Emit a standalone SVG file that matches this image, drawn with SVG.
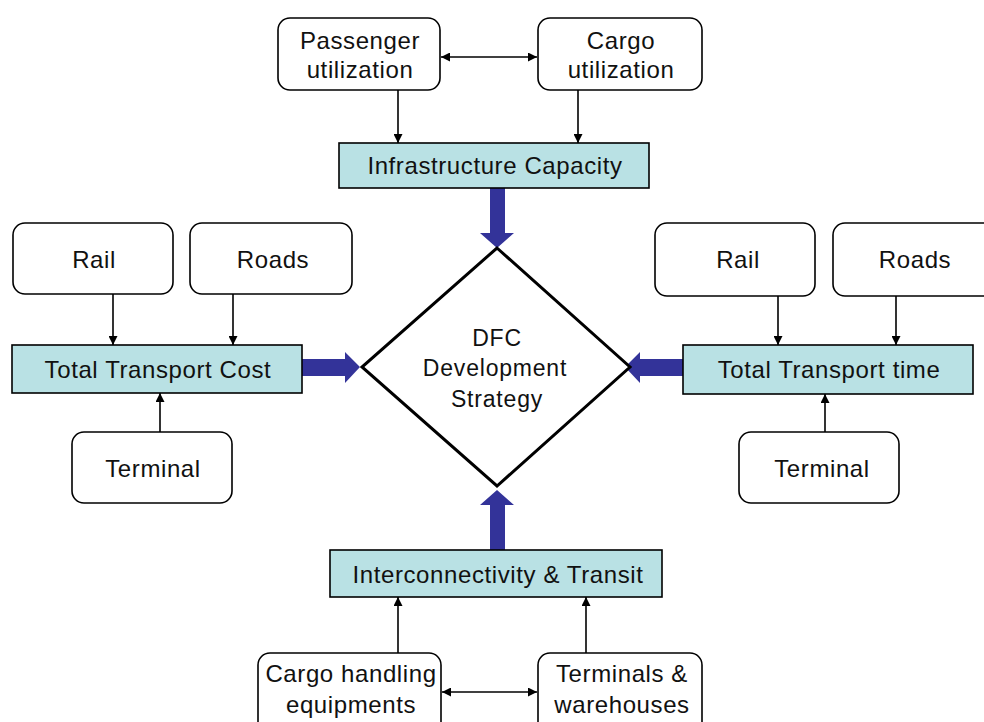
<svg xmlns="http://www.w3.org/2000/svg" width="984" height="722" viewBox="0 0 984 722">
  <style>
    .box { fill: #ffffff; stroke: #000000; stroke-width: 1.6; }
    .hub { fill: #b9e1e4; stroke: #000000; stroke-width: 1.6; }
    .lbl { font-family: "Liberation Sans", Arial, sans-serif; font-size: 24px; letter-spacing: 0.6px; fill: #111111; text-anchor: middle; }
    .mid { font-size: 23px; letter-spacing: 0.8px; }
    .thin { stroke: #000000; stroke-width: 1.6; fill: none; }
    .thick { fill: #333399; }
  </style>
  <defs>
    <marker id="ah" viewBox="0 0 10 10" refX="10" refY="5" markerWidth="9" markerHeight="9" markerUnits="userSpaceOnUse" orient="auto-start-reverse">
      <path d="M0,0 L10,5 L0,10 Z" fill="#000000"/>
    </marker>
  </defs>
  <rect width="984" height="722" fill="#ffffff"/>

  <!-- connectors -->
  <g id="connectors">
    <line class="thin" x1="441" y1="57" x2="537" y2="57" marker-start="url(#ah)" marker-end="url(#ah)"/>
    <line class="thin" x1="398" y1="90" x2="398" y2="143" marker-end="url(#ah)"/>
    <line class="thin" x1="578" y1="90" x2="578" y2="143" marker-end="url(#ah)"/>

    <line class="thin" x1="113" y1="294" x2="113" y2="345" marker-end="url(#ah)"/>
    <line class="thin" x1="233" y1="294" x2="233" y2="345" marker-end="url(#ah)"/>
    <line class="thin" x1="160" y1="432" x2="160" y2="393" marker-end="url(#ah)"/>

    <line class="thin" x1="778" y1="296" x2="778" y2="345" marker-end="url(#ah)"/>
    <line class="thin" x1="896" y1="296" x2="896" y2="345" marker-end="url(#ah)"/>
    <line class="thin" x1="825" y1="432" x2="825" y2="394" marker-end="url(#ah)"/>

    <line class="thin" x1="398" y1="653" x2="398" y2="597" marker-end="url(#ah)"/>
    <line class="thin" x1="586" y1="653" x2="586" y2="597" marker-end="url(#ah)"/>
    <line class="thin" x1="442" y1="692" x2="537" y2="692" marker-start="url(#ah)" marker-end="url(#ah)"/>

    <!-- block arrows into the strategy diamond -->
    <path class="thick" d="M490,188 L505,188 L505,233 L514,233 L497,248 L480,233 L490,233 Z"/>
    <path class="thick" d="M302,359 L345,359 L345,352 L360,367 L345,383 L345,376 L302,376 Z"/>
    <path class="thick" d="M683,359 L640,359 L640,352 L625,367 L640,383 L640,376 L683,376 Z"/>
    <path class="thick" d="M490,550 L505,550 L505,505 L514,505 L497,490 L480,505 L490,505 Z"/>
  </g>

  <g id="passenger">
    <rect class="box" x="278" y="18" width="162" height="72" rx="12"/>
    <text class="lbl" x="360" y="49">Passenger</text>
    <text class="lbl" x="360" y="78">utilization</text>
  </g>
  <g id="cargo">
    <rect class="box" x="538" y="18" width="164" height="72" rx="12"/>
    <text class="lbl" x="621" y="49">Cargo</text>
    <text class="lbl" x="621" y="78">utilization</text>
  </g>
  <g id="infrastructure">
    <rect class="hub" x="339" y="143" width="310" height="45"/>
    <text class="lbl" x="495" y="174">Infrastructure Capacity</text>
  </g>

  <g id="strategy">
    <path d="M497,248 L630,367 L497,486 L362,367 Z" fill="#ffffff" stroke="#000000" stroke-width="3"/>
    <text class="lbl mid" x="497" y="346">DFC</text>
    <text class="lbl mid" x="495" y="376">Development</text>
    <text class="lbl mid" x="497" y="407">Strategy</text>
  </g>

  <g id="rail-left">
    <rect class="box" x="13" y="223" width="160" height="71" rx="12"/>
    <text class="lbl" x="94" y="268">Rail</text>
  </g>
  <g id="roads-left">
    <rect class="box" x="190" y="223" width="162" height="71" rx="12"/>
    <text class="lbl" x="273" y="268">Roads</text>
  </g>
  <g id="cost">
    <rect class="hub" x="12" y="345" width="290" height="48"/>
    <text class="lbl" x="158" y="378">Total Transport Cost</text>
  </g>
  <g id="terminal-left">
    <rect class="box" x="72" y="432" width="160" height="71" rx="12"/>
    <text class="lbl" x="153" y="477">Terminal</text>
  </g>

  <g id="rail-right">
    <rect class="box" x="655" y="223" width="160" height="73" rx="12"/>
    <text class="lbl" x="738" y="268">Rail</text>
  </g>
  <g id="roads-right">
    <rect class="box" x="833" y="223" width="170" height="73" rx="12"/>
    <text class="lbl" x="915" y="268">Roads</text>
  </g>
  <g id="time">
    <rect class="hub" x="683" y="345" width="290" height="49"/>
    <text class="lbl" x="829" y="378">Total Transport time</text>
  </g>
  <g id="terminal-right">
    <rect class="box" x="739" y="432" width="160" height="71" rx="12"/>
    <text class="lbl" x="822" y="477">Terminal</text>
  </g>

  <g id="interconnectivity">
    <rect class="hub" x="330" y="550" width="332" height="47"/>
    <text class="lbl" x="498" y="583">Interconnectivity &amp; Transit</text>
  </g>
  <g id="handling">
    <rect class="box" x="258" y="653" width="183" height="90" rx="12"/>
    <text class="lbl" x="351" y="682">Cargo handling</text>
    <text class="lbl" x="351" y="713">equipments</text>
  </g>
  <g id="warehouses">
    <rect class="box" x="538" y="653" width="164" height="90" rx="12"/>
    <text class="lbl" x="622" y="682">Terminals &amp;</text>
    <text class="lbl" x="622" y="713">warehouses</text>
  </g>
</svg>
